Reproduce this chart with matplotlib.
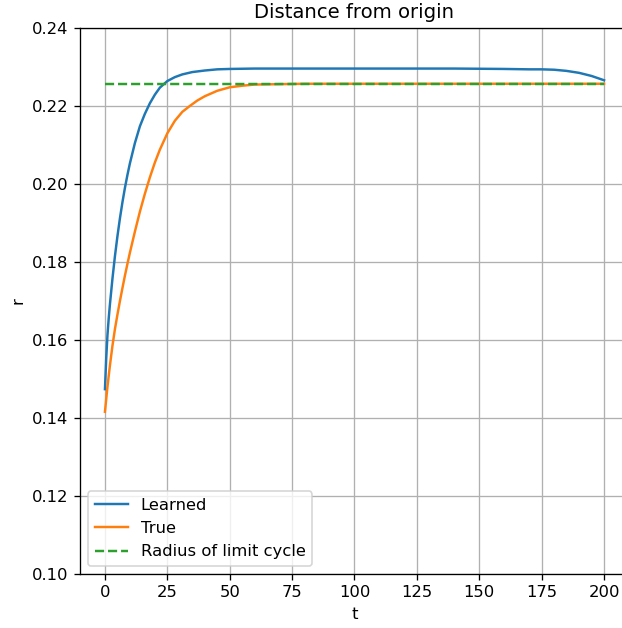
import matplotlib
matplotlib.use("Agg")
import matplotlib.pyplot as plt

# values
t_learned = [0, 0.5, 1, 1.5, 2, 3, 4, 5, 6, 7, 8, 9, 10, 12, 14, 16, 18, 20, 22, 25,
             28, 31, 35, 40, 45, 50, 60, 80, 100, 120, 140, 160, 170, 175, 180, 185,
             190, 195, 200]
r_learned = [0.1474, 0.1552, 0.1612, 0.1655, 0.1692, 0.1757, 0.1815, 0.1866, 0.1912,
             0.1953, 0.1990, 0.2023, 0.2053, 0.2105, 0.2148, 0.2180, 0.2207, 0.2229,
             0.2247, 0.2264, 0.2274, 0.2281, 0.2287, 0.2291, 0.2294, 0.2295, 0.2296,
             0.2296, 0.2296, 0.2296, 0.2296, 0.2295, 0.2294, 0.2294, 0.2293, 0.2290,
             0.2285, 0.2277, 0.2266]

t_true = [0, 1, 2, 3, 4, 5, 6, 7, 8, 9, 10, 12, 14, 16, 18, 20, 22, 25, 28, 31, 34,
          37, 40, 45, 50, 55, 60, 70, 80, 100, 150, 200]
r_true = [0.1416, 0.1480, 0.1535, 0.1585, 0.1628, 0.1665, 0.1700, 0.1733, 0.1765,
          0.1795, 0.1824, 0.1878, 0.1929, 0.1975, 0.2017, 0.2055, 0.2088, 0.2130,
          0.2162, 0.2185, 0.2200, 0.2214, 0.2225, 0.2239, 0.2248, 0.2252, 0.2255,
          0.2256, 0.2257, 0.2257, 0.2257, 0.2257]

t_limit = [0, 200]
r_limit = [0.2257, 0.2257]

dpi = 118
fig = plt.figure(figsize=(622 / dpi, 628 / dpi), dpi=dpi)
ax = fig.add_axes([80 / 622, 1 - 574 / 628, 549 / 622, 546 / 628])

ax.plot(t_learned, r_learned, label="Learned")
ax.plot(t_true, r_true, label="True")
ax.plot(t_limit, r_limit, "--", label="Radius of limit cycle")

ax.set_title("Distance from origin")
ax.set_xlabel("t")
ax.set_ylabel("r")
ax.set_ylim(0.10, 0.24)
ax.set_xticks([0, 25, 50, 75, 100, 125, 150, 175, 200])
ax.grid(True)
ax.legend(loc="lower left")

fig.savefig("out.png", dpi=dpi)
